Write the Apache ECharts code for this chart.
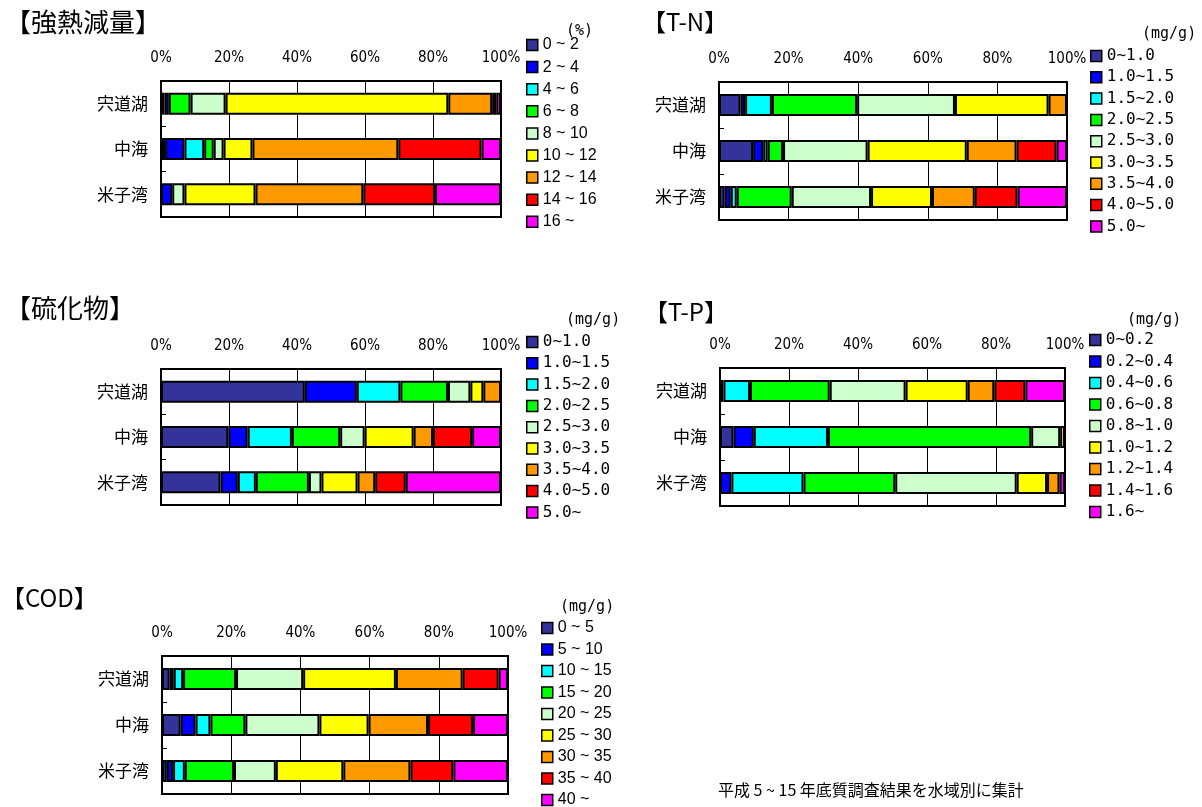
<!DOCTYPE html>
<html>
<head>
<meta charset="utf-8">
<script src="https://cdn.jsdelivr.net/npm/echarts@6/dist/echarts.min.js"></script>
<style>
  html, body { margin: 0; padding: 0; background: #fff; }
  #main { width: 1202px; height: 807px; }
</style>
</head>
<body>
<div id="main"></div>
<script>
// 水域
var places = ['宍道湖', '中海', '米子湾'];

// 強熱減量 (%)
var ilClasses = ['0 ~ 2', '2 ~ 4', '4 ~ 6', '6 ~ 8', '8 ~ 10', '10 ~ 12', '12 ~ 14', '14 ~ 16', '16 ~'];
var ilValues = [
  [1.0, 1.3, 0, 6.4, 10.3, 65.5, 12.9, 1.2, 1.4],
  [1.2, 5.7, 5.8, 2.8, 2.9, 8.5, 42.9, 24.5, 5.7],
  [0, 3.3, 0, 0, 3.6, 20.9, 31.7, 21.1, 19.4]
];

// T-N (mg/g)
var tnClasses = ['0~1.0', '1.0~1.5', '1.5~2.0', '2.0~2.5', '2.5~3.0', '3.0~3.5', '3.5~4.0', '4.0~5.0', '5.0~'];
var tnValues = [
  [6.2, 1.3, 7.7, 24.5, 28.1, 26.9, 5.3, 0, 0],
  [9.8, 2.9, 1.3, 4.4, 24.3, 28.5, 14.3, 11.5, 3.0],
  [1.6, 1.8, 1.7, 15.8, 22.8, 17.5, 12.3, 12.3, 14.2]
];

// 硫化物 (mg/g)
var sulClasses = ['0~1.0', '1.0~1.5', '1.5~2.0', '2.0~2.5', '2.5~3.0', '3.0~3.5', '3.5~4.0', '4.0~5.0', '5.0~'];
var sulValues = [
  [42.3, 15.3, 12.8, 14.0, 6.6, 3.8, 5.2, 0, 0],
  [19.8, 5.7, 13.0, 14.2, 7.2, 14.4, 5.7, 11.5, 8.5],
  [17.5, 5.1, 5.3, 15.6, 3.7, 10.6, 5.2, 9.0, 28.0]
];

// T-P (mg/g)
var tpClasses = ['0~0.2', '0.2~0.4', '0.4~0.6', '0.6~0.8', '0.8~1.0', '1.0~1.2', '1.2~1.4', '1.4~1.6', '1.6~'];
var tpValues = [
  [1.0, 0, 7.7, 23.1, 22.0, 18.0, 7.7, 9.0, 11.5],
  [3.9, 5.9, 21.5, 58.9, 8.4, 1.4, 0, 0, 0],
  [0, 3.3, 20.9, 26.6, 35.2, 8.8, 3.6, 0, 1.6]
];

// COD (mg/g)
var codClasses = ['0 ~ 5', '5 ~ 10', '10 ~ 15', '15 ~ 20', '20 ~ 25', '25 ~ 30', '30 ~ 35', '35 ~ 40', '40 ~'];
var codValues = [
  [2.2, 1.2, 2.7, 15.3, 19.4, 26.8, 19.3, 10.4, 2.7],
  [5.4, 4.3, 4.3, 10.1, 21.4, 14.2, 17.2, 13.0, 10.1],
  [1.4, 1.8, 3.4, 14.2, 12.1, 19.5, 19.4, 12.4, 15.8]
];

var xTicks = [0, 20, 40, 60, 80, 100];

var colors = ['#333399', '#0000ff', '#00ffff', '#00ff00', '#ccffcc', '#ffff00', '#ff9900', '#ff0000', '#ff00ff'];

var cjk = '"Noto Sans CJK JP", sans-serif';
var mono = '"DejaVu Sans Mono", monospace';
var narrow = '"Liberation Sans Narrow", "DejaVu Sans Condensed", sans-serif';

// 各グラフの配置
var panels = [
  { title: '【強熱減量】', titleSize: 26, unit: '(%)', classes: ilClasses, values: ilValues,
    grid: { left: 161, top: 81, width: 340, height: 136 },
    legend: { left: 526, top: 37, step: 22.1 }, titleXY: [5, 25], unitXY: [566, 33], monoLegend: false },
  { title: '【T-N】', titleSize: 24, unit: '(mg/g)', classes: tnClasses, values: tnValues,
    grid: { left: 719, top: 82, width: 348, height: 138 },
    legend: { left: 1090, top: 48, step: 21.3 }, titleXY: [642, 24], unitXY: [1142, 36], monoLegend: true },
  { title: '【硫化物】', titleSize: 26, unit: '(mg/g)', classes: sulClasses, values: sulValues,
    grid: { left: 161, top: 369, width: 340, height: 136 },
    legend: { left: 526, top: 334, step: 21.3 }, titleXY: [5, 311], unitXY: [566, 322], monoLegend: true },
  { title: '【T-P】', titleSize: 24, unit: '(mg/g)', classes: tpClasses, values: tpValues,
    grid: { left: 720, top: 368, width: 345, height: 138 },
    legend: { left: 1089, top: 332, step: 21.5 }, titleXY: [644, 314], unitXY: [1127, 322], monoLegend: true },
  { title: '【COD】', titleSize: 24, unit: '(mg/g)', classes: codClasses, values: codValues,
    grid: { left: 162, top: 656, width: 346, height: 138 },
    legend: { left: 541, top: 620, step: 21.5 }, titleXY: [1, 600], unitXY: [560, 609], monoLegend: false }
];

var grids = [], xAxes = [], yAxes = [], series = [], legends = [], graphics = [];
var legendLine = 16;

panels.forEach(function (p, gi) {
  grids.push({
    left: p.grid.left, top: p.grid.top, width: p.grid.width, height: p.grid.height,
    show: true, borderColor: '#000', borderWidth: 2, backgroundColor: '#fff'
  });
  xAxes.push({
    type: 'value', gridIndex: gi, position: 'top',
    min: xTicks[0], max: xTicks[xTicks.length - 1], interval: xTicks[1] - xTicks[0],
    axisLine: { show: false }, axisTick: { show: false },
    axisLabel: { formatter: '{value}%', margin: 15, fontSize: 15, color: '#000', fontFamily: narrow },
    splitLine: { show: true, lineStyle: { color: '#000', width: 1 } }
  });
  yAxes.push({
    type: 'category', gridIndex: gi, data: places, inverse: true,
    axisLine: { show: true, lineStyle: { color: '#000', width: 2 } },
    axisTick: { show: true, inside: true, length: 5, lineStyle: { color: '#000', width: 1 } },
    axisLabel: { fontSize: 17, color: '#000', margin: 13, fontFamily: cjk }
  });
  p.classes.forEach(function (name, ci) {
    series.push({
      name: name, type: 'bar', stack: 'g' + gi,
      xAxisIndex: gi, yAxisIndex: gi, barWidth: 22,
      itemStyle: { color: colors[ci], borderColor: '#000', borderWidth: 2 },
      emphasis: { disabled: true },
      data: p.values.map(function (row) { return row[ci] || null; })
    });
  });
  legends.push({
    orient: 'vertical', left: p.legend.left, top: p.legend.top, height: 230, padding: 0,
    itemGap: p.legend.step - legendLine, itemWidth: 11, itemHeight: 11, icon: 'rect',
    selectedMode: false,
    data: p.classes,
    itemStyle: { borderColor: '#000', borderWidth: 1.5 },
    textStyle: p.monoLegend
      ? { fontFamily: mono, fontSize: 16, color: '#000' }
      : { fontFamily: '"Liberation Sans", Arial, sans-serif', fontSize: 16, color: '#000' }
  });
  graphics.push({
    type: 'text', left: p.titleXY[0], top: p.titleXY[1] - p.titleSize * 0.6,
    style: { text: p.title, font: p.titleSize + 'px ' + cjk, fill: '#000' }
  });
  graphics.push({
    type: 'text', left: p.unitXY[0], top: p.unitXY[1] - 9,
    style: { text: p.unit, font: '15px ' + mono, fill: '#000' }
  });
});

graphics.push({
  type: 'text', left: 718, top: 782,
  style: { text: '平成 5 ~ 15 年底質調査結果を水域別に集計', font: '16px ' + cjk, fill: '#000' }
});

var chart = echarts.init(document.getElementById('main'), null, { renderer: 'canvas' });
chart.setOption({
  backgroundColor: '#fff',
  animation: false,
  grid: grids,
  xAxis: xAxes,
  yAxis: yAxes,
  legend: legends,
  graphic: graphics,
  series: series
});
</script>
</body>
</html>
